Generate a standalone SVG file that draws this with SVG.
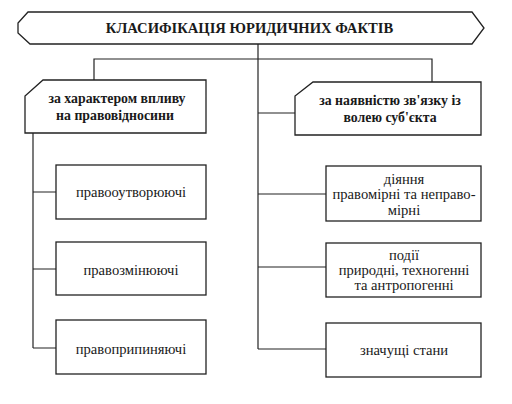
<svg xmlns="http://www.w3.org/2000/svg" width="512" height="404" viewBox="0 0 512 404">
<style>
.box{fill:#fff;stroke:#222;stroke-width:1.3}
.ln{fill:none;stroke:#222;stroke-width:1.2}
text{fill:#1a1a1a;text-anchor:middle}
.b{font-weight:bold;font-size:13.8px}
.r{font-size:14.6px}
</style>
<rect width="512" height="404" fill="#fff"/>
<g id="connectors" class="ln">
<path d="M258 44 V349"/>
<path d="M94 80 V59 H432 V82"/>
<path d="M258 113 H295"/>
<path d="M33 133 V348"/>
<path d="M33 192 H56 M33 269 H56 M33 348 H56"/>
<path d="M258 194 H326 M258 267 H326 M258 349 H326"/>
</g>
<g font-family="'Liberation Serif', 'DejaVu Serif', 'Noto Serif', 'Times New Roman', serif">
<g id="title">
<path class="box" d="M28 12 L472 12 L484 28 L472 44 L30 44 L18 33 L18 23 Z"/>
<text x="249.5" y="33" font-weight="bold" font-size="14.6">КЛАСИФІКАЦІЯ ЮРИДИЧНИХ ФАКТІВ</text>
</g>
<g id="left-header">
<path class="box" d="M43 80 L206 80 L206 133 L25 133 L25 96 Z"/>
<text class="b" x="117" y="103">за характером впливу</text>
<text class="b" x="115" y="120">на правовідносини</text>
</g>
<g id="right-header">
<path class="box" d="M313 82 L481 82 L481 135 L295 135 L295 96 Z"/>
<text class="b" x="390" y="105">за наявністю зв'язку із</text>
<text class="b" x="390" y="122">волею суб'єкта</text>
</g>
<g id="l1">
<rect class="box" x="56" y="165" width="150" height="54"/>
<text class="r" x="131" y="197">правооутворюючі</text>
</g>
<g id="l2">
<rect class="box" x="56" y="242" width="150" height="53"/>
<text class="r" x="131" y="275">правозмінюючі</text>
</g>
<g id="l3">
<rect class="box" x="56" y="320" width="150" height="54"/>
<text class="r" x="131" y="354">правоприпиняючі</text>
</g>
<g id="r1">
<rect class="box" x="326" y="166" width="155" height="55"/>
<text class="r" x="404" y="184">діяння</text>
<text class="r" x="404" y="199">правомірні та неправо-</text>
<text class="r" x="404" y="215">мірні</text>
</g>
<g id="r2">
<rect class="box" x="326" y="243" width="155" height="54"/>
<text class="r" x="404" y="260">події</text>
<text class="r" x="404" y="275">природні, техногенні</text>
<text class="r" x="404" y="290">та антропогенні</text>
</g>
<g id="r3">
<rect class="box" x="326" y="323" width="155" height="54"/>
<text class="r" x="404" y="355">значущі стани</text>
</g>
</g>
</svg>
